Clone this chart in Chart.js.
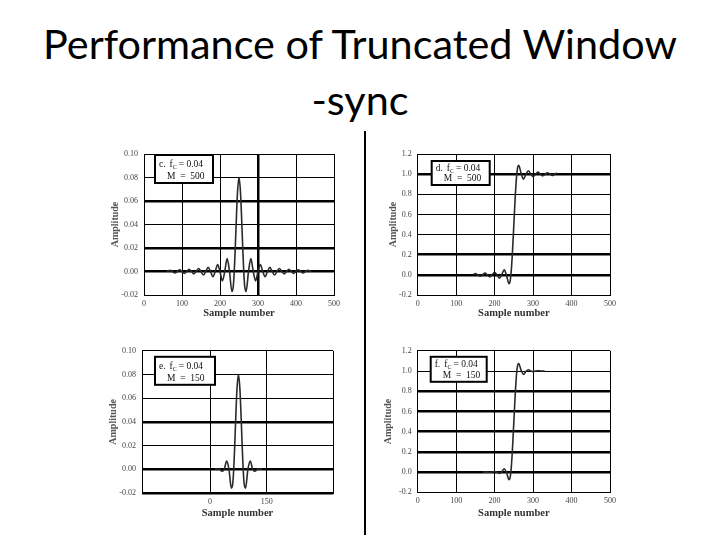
<!DOCTYPE html>
<html>
<head>
<meta charset="utf-8">
<script src="https://cdn.jsdelivr.net/npm/chart.js@4.4.1/dist/chart.umd.min.js"></script>
<style>
  html, body { margin: 0; padding: 0; background: #fff; }
  body { width: 720px; height: 540px; position: relative; overflow: hidden; }
  #title { position: absolute; left: 0; width: 720px; top: 15px; text-align: center;
           font-family: Lato, "Liberation Sans", Arial, sans-serif; color: #000; line-height: 56px; }
  #title div { white-space: nowrap; }
  .panel { position: absolute; }
  #divider { position: absolute; left: 364px; top: 131px; width: 2px; height: 404px; background: #000; }
</style>
</head>
<body>
<div id="title"><div id="t1">Performance of Truncated Window</div><div id="t2">-sync</div></div>
<div id="divider"></div>
<canvas id="chartC" class="panel" width="250" height="190" style="left:100px;top:140px"></canvas>
<canvas id="chartD" class="panel" width="250" height="190" style="left:370px;top:140px"></canvas>
<canvas id="chartE" class="panel" width="250" height="190" style="left:100px;top:340px"></canvas>
<canvas id="chartF" class="panel" width="250" height="190" style="left:370px;top:340px"></canvas>
<script>
// --- datos ---
const panelLetters = ["c.", "d.", "e.", "f."];
const panelM = ["500", "500", "150", "150"];
const cutoff = "0.04";

const xTicksFull = [0, 100, 200, 300, 400, 500];
const xTicksShort = [0, 150];
const kernelYTicks = [-0.02, 0, 0.02, 0.04, 0.06, 0.08, 0.10];
const stepYTicks = [-0.2, 0, 0.2, 0.4, 0.6, 0.8, 1.0, 1.2];

// c: kernel, M = 500
const cSample = [60, 68.75, 75, 81.25, 87.5, 93.75, 100, 106.25, 112.5, 118.75, 125, 131.25, 137.5, 143.75,
  150, 156.25, 162.5, 168.75, 175, 181.25, 187.5, 193.75, 200, 206.25, 212.5, 218.75, 225, 231.25, 235,
  237.5, 240, 242, 246, 250, 254, 258, 260, 262.5, 265, 268.75, 275, 281.25, 287.5, 293.75, 300, 306.25,
  312.5, 318.75, 325, 331.25, 337.5, 343.75, 350, 356.25, 362.5, 368.75, 375, 381.25, 387.5, 393.75, 400,
  406.25, 412.5, 418.75, 425, 431.25, 440];
const cAmp = [0, 0.0010, 0, -0.0012, 0, 0.0014, 0, -0.0016, 0, 0.0018, 0, -0.0020, 0, 0.0025,
  0, -0.0030, 0, 0.0035, 0, -0.0045, 0, 0.0060, 0, -0.0080, 0, 0.0110, 0, -0.0170, -0.0125,
  0, 0.0187, 0.0360, 0.0670, 0.0800, 0.0670, 0.0360, 0.0187, 0, -0.0125, -0.0170, 0, 0.0110, 0, -0.0080, 0, 0.0060,
  0, -0.0045, 0, 0.0035, 0, -0.0030, 0, 0.0025, 0, -0.0020, 0, 0.0018, 0, -0.0016, 0,
  0.0014, 0, -0.0012, 0, 0.0010, 0];

// d: step response, M = 500
const dSample = [145, 150, 156.25, 162.5, 168.75, 175, 181.25, 187.5, 193.75, 200, 206.25, 212.5, 218.75,
  225, 231.25, 237.5, 240, 242, 244, 246, 250, 254, 256, 258, 260, 262.5, 268.75, 275, 281.25, 287.5,
  293.75, 300, 306.25, 312.5, 318.75, 325, 331.25, 337.5, 343.75, 350, 356.25, 362.5];
const dAmp = [0.004, 0.013, -0.001, -0.014, 0.001, 0.017, -0.001, -0.020, 0.002, 0.025, -0.003, -0.033, 0.005,
  0.049, -0.010, -0.089, -0.069, -0.012, 0.077, 0.198, 0.500, 0.802, 0.923, 1.012, 1.069, 1.089, 1.010, 0.951, 0.995, 1.033,
  1.003, 0.975, 0.998, 1.020, 1.001, 0.983, 0.999, 1.014, 1.001, 0.987, 0.999, 1.011];

// e: kernel, M = 150
const eSample = [12.5, 18.75, 25, 31.25, 37.5, 43.75, 50, 56.25, 60, 62.5, 65, 67, 71, 75, 79, 83, 85,
  87.5, 90, 93.75, 100, 106.25, 112.5, 118.75, 125, 131.25, 137.5];
const eAmp = [0, 0.0005, 0, -0.0015, 0, 0.0069, 0, -0.0160, -0.0120, 0, 0.0187, 0.0360, 0.0670, 0.0800, 0.0670, 0.0360, 0.0187,
  0, -0.0120, -0.0160, 0, 0.0069, 0, -0.0015, 0, 0.0005, 0];

// f: step response, M = 150
const fSample = [170, 180, 187.5, 193.75, 200, 206.25, 212.5, 218.75, 225, 231.25, 237.5, 240, 242, 244, 246,
  250, 254, 256, 258, 260, 262.5, 268.75, 275, 281.25, 287.5, 293.75, 300, 306.25, 312.5, 320, 330];
const fAmp = [0, 0, -0.002, 0.001, 0.006, -0.001, -0.013, 0.004, 0.033, -0.009, -0.075, -0.058, -0.008, 0.08, 0.20,
  0.50, 0.80, 0.92, 1.01, 1.058, 1.075, 1.009, 0.967, 0.996, 1.013, 1.001, 0.994, 1.000, 1.002, 1.000, 1.000];

// titulo: ajustar el tamaño al ancho de la diapositiva
(function fitTitle() {
  const t1 = document.getElementById("t1");
  const t2 = document.getElementById("t2");
  let size = 40;
  t1.style.fontSize = size + "px";
  t1.style.display = "inline-block";
  const w = t1.getBoundingClientRect().width;
  size = size * 634 / w;
  document.getElementById("title").style.fontSize = size + "px";
  t1.style.fontSize = size + "px";
  t1.style.display = "block";
  t2.style.fontSize = size + "px";
})();

const near = (a, b) => Math.abs(a - b) < 1e-9;

// recuadro con f_c y M
const fcBox = {
  id: "fcBox",
  afterDraw(chart, args, opts) {
    const { ctx, chartArea } = chart;
    const [dx, dy, w, h] = opts.box;
    const x = chartArea.left + dx, y = chartArea.top + dy;
    ctx.save();
    ctx.fillStyle = "#fff";
    ctx.fillRect(x, y, w, h);
    ctx.strokeStyle = "#000";
    ctx.lineWidth = 2;
    ctx.strokeRect(x, y, w, h);
    ctx.fillStyle = "#111";
    ctx.textBaseline = "alphabetic";
    const big = "9.5px 'Liberation Serif', serif";
    const small = "6px 'Liberation Serif', serif";
    const line1 = y + h / 2 - 2;
    const line2 = y + h - 4;
    let cx = x + 4;
    ctx.font = big;
    ctx.fillText(opts.letter, cx, line1);
    cx += ctx.measureText(opts.letter).width + 4;
    ctx.fillText("f", cx, line1);
    cx += ctx.measureText("f").width;
    ctx.font = small;
    ctx.fillText("C", cx, line1 + 2);
    cx += ctx.measureText("C").width + 2;
    ctx.font = big;
    ctx.fillText("= " + opts.fc, cx, line1);
    ctx.fillText("M  =  " + opts.m, x + 12, line2);
    ctx.restore();
  }
};

function makePanel(id, samples, amps, cfg) {
  const points = samples.map((s, i) => ({ x: s, y: amps[i] }));
  return new Chart(document.getElementById(id), {
    type: "line",
    data: {
      datasets: [{
        data: points,
        borderColor: "#2a2a2a",
        borderWidth: 1.6,
        pointRadius: 0,
        cubicInterpolationMode: "monotone",
        fill: false
      }]
    },
    plugins: [fcBox],
    options: {
      responsive: false,
      animation: false,
      layout: { padding: { top: cfg.padTop, right: cfg.padRight, left: 0, bottom: 0 } },
      plugins: {
        legend: { display: false },
        tooltip: { enabled: false },
        fcBox: { letter: cfg.letter, fc: cutoff, m: cfg.m, box: cfg.box }
      },
      scales: {
        x: {
          type: "linear",
          min: cfg.xMin,
          max: cfg.xMax,
          afterBuildTicks: (axis) => { axis.ticks = cfg.xGrid.map(v => ({ value: v })); },
          afterFit: (axis) => { axis.height = cfg.xHeight; },
          grid: {
            color: "#000",
            drawTicks: false,
            lineWidth: (c) => (cfg.xThick.some(v => near(v, c.tick.value)) ? 2.5 : 1)
          },
          border: { color: "#000", width: 1 },
          ticks: {
            padding: 4,
            color: "#444",
            font: { family: "'Liberation Serif', serif", size: 8 },
            callback: (v) => (cfg.xLabels.some(t => near(t, v)) ? String(v) : "")
          },
          title: {
            display: true,
            text: "Sample number",
            color: "#333",
            font: { family: "'Liberation Serif', serif", size: 10.5, weight: "bold" },
            padding: { top: 0, bottom: 10 }
          }
        },
        y: {
          type: "linear",
          min: cfg.yTicks[0],
          max: cfg.yTicks[cfg.yTicks.length - 1],
          afterBuildTicks: (axis) => { axis.ticks = cfg.yTicks.map(v => ({ value: v })); },
          afterFit: (axis) => { axis.width = cfg.yWidth; },
          grid: {
            color: "#000",
            drawTicks: false,
            lineWidth: (c) => (cfg.yThick.some(v => near(v, c.tick.value)) ? 2.5 : 1)
          },
          border: { color: "#000", width: 1 },
          ticks: {
            padding: 6,
            color: "#444",
            font: { family: "'Liberation Serif', serif", size: 8 },
            callback: (v) => v.toFixed(cfg.decimals)
          },
          title: {
            display: true,
            text: "Amplitude",
            color: "#555",
            font: { family: "'Liberation Serif', serif", size: 10, weight: "bold" },
            padding: { top: cfg.yTitlePad, bottom: 0 }
          }
        }
      }
    }
  });
}

makePanel("chartC", cSample, cAmp, {
  letter: panelLetters[0], m: panelM[0], box: [11, 1, 58, 28],
  padTop: 14, padRight: 16, xHeight: 35, yWidth: 44, yTitlePad: 9,
  xMin: 0, xMax: 500, xGrid: xTicksFull, xLabels: xTicksFull, xThick: [300],
  yTicks: kernelYTicks, yThick: [0.06, 0.02, 0], decimals: 2
});

makePanel("chartD", dSample, dAmp, {
  letter: panelLetters[1], m: panelM[1], box: [14, 7, 58, 24],
  padTop: 14, padRight: 7.7, xHeight: 35, yWidth: 47.7, yTitlePad: 17,
  xMin: 0, xMax: 500, xGrid: xTicksFull, xLabels: xTicksFull, xThick: [],
  yTicks: stepYTicks, yThick: [1.0, 0.2, 0], decimals: 1
});

makePanel("chartE", eSample, eAmp, {
  letter: panelLetters[2], m: panelM[2], box: [13, 6, 60, 28],
  padTop: 9, padRight: 17, xHeight: 37, yWidth: 42, yTitlePad: 7,
  xMin: -180, xMax: 325, xGrid: [-180, 0, 150, 325], xLabels: xTicksShort, xThick: [],
  yTicks: kernelYTicks, yThick: [0.04, 0, -0.02], decimals: 2
});

makePanel("chartF", fSample, fAmp, {
  letter: panelLetters[3], m: panelM[3], box: [13, 6, 56, 25],
  padTop: 10.7, padRight: 7.7, xHeight: 37.7, yWidth: 47.7, yTitlePad: 12,
  xMin: 0, xMax: 500, xGrid: xTicksFull, xLabels: xTicksFull, xThick: [],
  yTicks: stepYTicks, yThick: [0.8, 0.6, 0.4, 0.2, 0], decimals: 1
});
</script>
</body>
</html>
